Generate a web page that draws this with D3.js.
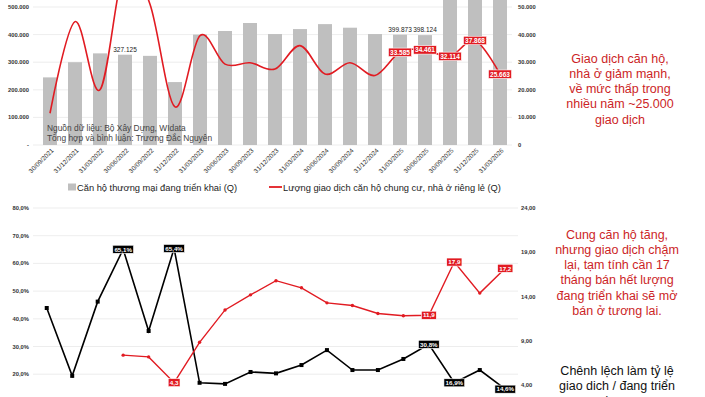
<!DOCTYPE html>
<html><head><meta charset="utf-8">
<script src="https://cdn.jsdelivr.net/npm/d3@7"></script>
<style>
html,body{margin:0;padding:0;background:#fff;overflow:hidden}
svg{display:block;font-family:"Liberation Sans",Arial,Helvetica,sans-serif}
</style></head>
<body>
<svg id="c" width="705" height="397"></svg>
<script>
// ---------- DATA ----------
const categories = ["30/09/2021","31/12/2021","31/03/2022","30/06/2022","30/09/2022","31/12/2022",
  "31/03/2023","30/06/2023","30/09/2023","31/12/2023","31/03/2024","30/06/2024","30/09/2024",
  "31/12/2024","31/03/2025","30/06/2025","30/09/2025","31/12/2025","31/03/2026"];
// Top chart: apartments on offer (left axis) and transactions (right axis)
const supplyUnits = [245000,300000,332000,327125,323000,228000,400000,413000,442000,402000,
  420000,438000,425000,402000,399873,398124,560000,580000,600000];
const supplyLabelIdx = [3,14,15];
const transactions = [11500,44700,20000,65000,51000,13800,39600,29300,29800,27500,
  36000,25700,29800,25200,33585,34461,32114,37868,25663];
const transLabelIdx = [14,15,16,17,18];
const topLeftTicks = [0,100000,200000,300000,400000,500000];
const topRightTicks = [0,10000,20000,30000,40000,50000];
// Bottom chart: ratio transactions / on offer (left, %) and months to sell (right)
const ratioPct = [43.9,19.4,46.2,65.1,35.6,65.4,16.9,16.5,20.8,20.3,23.3,28.7,21.5,21.5,25.5,30.8,16.9,21.5,14.6];
const ratioLabelIdx = [3,5,15,16,18];
const monthsToSell = [null,null,null,7.4,7.2,4.3,8.85,12.5,14.2,15.8,15.0,13.3,13.0,12.1,11.85,11.9,17.9,14.4,17.2];
const monthsLabelIdx = [5,15,16,18];
const botLeftTicks = [20,30,40,50,60,70,80];
const botRightTicks = [4,9,14,19,24];
// Texts
const sourceLines = ["Nguồn dữ liệu: Bộ Xây Dựng, WIdata","Tổng hợp và bình luận: Trương Đắc Nguyên"];
const legendLabels = ["Căn hộ thương mại đang triển khai  (Q)","Lượng giao dịch căn hộ chung cư, nhà ở riêng lẻ  (Q)"];
const noteTop = ["Giao dịch căn hộ,","nhà ở giảm mạnh,","về mức thấp trong","nhiều năm ~25.000","giao dịch"];
const noteBotRed = ["Cung căn hộ tăng,","nhưng giao dịch chậm","lại, tạm tính cần 17","tháng bán hết lượng","đang triển khai sẽ mở","bán ở tương lai."];
const noteBotBlack = ["Chênh lệch làm tỷ lệ","giao dich / đang triển","khai tiếp tục giảm"];

// ---------- SETUP ----------
const vi = d3.formatLocale({decimal:",",thousands:".",grouping:[3],currency:["",""]});
const fmtInt = vi.format(",.0f");
const fmtPct = v => vi.format(".1f")(v)+"%";
const fmt1 = vi.format(".1f");
const fmt2 = vi.format(".2f");

const svg = d3.select("#c");
const RED = "#e11b22", TXTRED = "#cc1f27", GRAY = "#bfbfbf", GRID = "#e8e8e8";

// ---------- TOP CHART ----------
const x = d3.scaleBand().domain(categories).range([37.5,512.5]).paddingInner(0.44).paddingOuter(0.22);
const yL = d3.scaleLinear().domain([0,500000]).range([145,7]);
const yR = d3.scaleLinear().domain([0,50000]).range([145,7]);
const topG = svg.append("g");

topG.append("g").selectAll("line").data(topLeftTicks).join("line")
  .attr("x1",33).attr("x2",512).attr("y1",d=>yL(d)).attr("y2",d=>yL(d))
  .attr("stroke",GRID).attr("stroke-width",0.8);

topG.append("g").selectAll("rect").data(supplyUnits).join("rect")
  .attr("x",(d,i)=>x(categories[i])).attr("width",x.bandwidth())
  .attr("y",d=>yL(d)).attr("height",d=>yL(0)-yL(d)).attr("fill",GRAY);

topG.append("g").selectAll("text").data(topLeftTicks).join("text")
  .attr("x",29).attr("y",d=>yL(d)+2).attr("text-anchor","end")
  .attr("font-size",5.8).attr("font-weight",600).attr("fill","#333")
  .text(d=>d===0?"-":fmtInt(d));
topG.append("g").selectAll("text").data(topRightTicks).join("text")
  .attr("x",518).attr("y",d=>yR(d)+2).attr("text-anchor","start")
  .attr("font-size",5.8).attr("font-weight",600).attr("fill","#333")
  .text(d=>fmtInt(d));

// x labels
topG.append("g").selectAll("text").data(categories).join("text")
  .attr("transform",d=>`translate(${x(d)+x.bandwidth()/2+4},${151}) rotate(-45)`)
  .attr("text-anchor","end").attr("font-size",6.4).attr("fill","#333").text(d=>d);

// source
topG.append("g").selectAll("text").data(sourceLines).join("text")
  .attr("x",47).attr("y",(d,i)=>131+i*10).attr("font-size",8.4).attr("fill","#444").text(d=>d);

// line
const line = d3.line().x((d,i)=>x(categories[i])+x.bandwidth()/2).y(d=>yR(d)).curve(d3.curveCardinal.tension(0));
topG.append("path").datum(transactions).attr("d",line).attr("fill","none")
  .attr("stroke",RED).attr("stroke-width",1.6);

// supply labels
topG.append("g").selectAll("text").data(supplyLabelIdx).join("text")
  .attr("x",i=>x(categories[i])+x.bandwidth()/2).attr("y",i=>yL(supplyUnits[i])-3)
  .attr("text-anchor","middle").attr("font-size",6.5).attr("fill","#222").text(i=>fmtInt(supplyUnits[i]));

function boxLabel(g, cx, cy, txt, fill, fs){
  const gg = g.append("g");
  const t = gg.append("text").attr("x",cx).attr("y",cy+fs*0.36).attr("text-anchor","middle")
    .attr("font-size",fs).attr("font-weight",700).attr("fill","#fff").text(txt);
  const w = t.node().getComputedTextLength();
  gg.insert("rect","text").attr("x",cx-w/2-1.6).attr("y",cy-fs*0.65).attr("width",w+3.2).attr("height",fs*1.3)
    .attr("fill",fill).attr("stroke","#fff").attr("stroke-width",0.6);
}
const labG = topG.append("g");
transLabelIdx.forEach(i=>boxLabel(labG, x(categories[i])+x.bandwidth()/2, yR(transactions[i]), fmtInt(transactions[i]), RED, 6.5));

// legend
const leg = topG.append("g");
leg.append("rect").attr("x",68).attr("y",183.5).attr("width",8).attr("height",7).attr("fill",GRAY);
leg.append("text").attr("x",77).attr("y",190.5).attr("font-size",9.3).attr("fill","#222").text(legendLabels[0]);
leg.append("line").attr("x1",269).attr("x2",282).attr("y1",187).attr("y2",187).attr("stroke",RED).attr("stroke-width",1.8);
leg.append("text").attr("x",283).attr("y",190.5).attr("font-size",9.3).attr("fill","#222").text(legendLabels[1]);

// note top
svg.append("g").selectAll("text").data(noteTop).join("text")
  .attr("x",620).attr("y",(d,i)=>62.5+i*15.3).attr("text-anchor","middle")
  .attr("font-size",12.5).attr("fill",TXTRED).text(d=>d);

// ---------- BOTTOM CHART ----------
const xb = d3.scalePoint().domain(categories).range([34,518]).padding(0.5);
const yP = d3.scaleLinear().domain([0,80]).range([429.6,208]);
const yM = d3.scaleLinear().domain([-1,24]).range([429.6,208]);
const bot = svg.append("g");

bot.append("g").selectAll("line").data(botLeftTicks).join("line")
  .attr("x1",33).attr("x2",518).attr("y1",d=>yP(d)).attr("y2",d=>yP(d))
  .attr("stroke",GRID).attr("stroke-width",0.8);
bot.append("g").selectAll("text").data(botLeftTicks).join("text")
  .attr("x",29).attr("y",d=>yP(d)+2).attr("text-anchor","end")
  .attr("font-size",5.8).attr("font-weight",600).attr("fill","#333").text(d=>fmtPct(d));
bot.append("g").selectAll("text").data(botRightTicks).join("text")
  .attr("x",521).attr("y",d=>yM(d)+2).attr("text-anchor","start")
  .attr("font-size",5.8).attr("font-weight",600).attr("fill","#333").text(d=>fmt2(d));

const lineP = d3.line().x((d,i)=>xb(categories[i])).y(d=>yP(d));
bot.append("path").datum(ratioPct).attr("d",lineP).attr("fill","none").attr("stroke","#000").attr("stroke-width",1.6);
bot.append("g").selectAll("rect").data(ratioPct).join("rect")
  .attr("x",(d,i)=>xb(categories[i])-2).attr("y",d=>yP(d)-2).attr("width",4).attr("height",4).attr("fill","#000");

const mData = monthsToSell.map((v,i)=>({v,i})).filter(d=>d.v!==null);
const lineM = d3.line().x(d=>xb(categories[d.i])).y(d=>yM(d.v));
bot.append("path").datum(mData).attr("d",lineM).attr("fill","none").attr("stroke",RED).attr("stroke-width",1.4);
bot.append("g").selectAll("circle").data(mData).join("circle")
  .attr("cx",d=>xb(categories[d.i])).attr("cy",d=>yM(d.v)).attr("r",1.7).attr("fill",RED);

const bl = bot.append("g");
ratioLabelIdx.forEach(i=>boxLabel(bl, xb(categories[i]), yP(ratioPct[i]), fmtPct(ratioPct[i]), "#000", 6.2));
monthsLabelIdx.forEach(i=>boxLabel(bl, xb(categories[i]), yM(monthsToSell[i]), fmt1(monthsToSell[i]), RED, 6.2));

svg.append("g").selectAll("text").data(noteBotRed).join("text")
  .attr("x",617).attr("y",(d,i)=>238.5+i*15.3).attr("text-anchor","middle")
  .attr("font-size",12.5).attr("fill",TXTRED).text(d=>d);
svg.append("g").selectAll("text").data(noteBotBlack).join("text")
  .attr("x",617).attr("y",(d,i)=>374.5+i*15.5).attr("text-anchor","middle")
  .attr("font-size",12.5).attr("fill","#111").text(d=>d);
</script>
</body></html>
